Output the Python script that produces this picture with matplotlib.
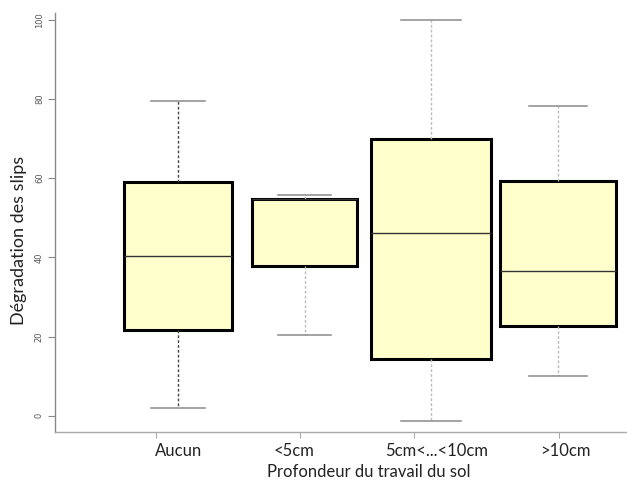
import matplotlib
matplotlib.use('Agg')
import matplotlib.pyplot as plt
from matplotlib.ticker import FixedLocator, NullFormatter

# ---- data ----
categories = ['Aucun', '<5cm', '5cm<...<10cm', '>10cm']
whisker_low = [1.9, 20.3, -1.3, 10.0]
q1 = [21.7, 37.8, 14.3, 22.7]
median = [40.4, 54.8, 46.2, 36.6]
q3 = [59.0, 54.8, 69.9, 59.3]
whisker_high = [79.6, 55.8, 100.0, 78.2]
box_widths = [0.86, 0.83, 0.95, 0.92]
yticks = [0, 20, 40, 60, 80, 100]

# tick marks / label offsets as in the reference axis
label_positions = [1.005, 1.92, 3.04, 4.06]
tickmark_positions = [0.822, 1.963, 2.864, 4.009]

plt.rcParams['font.family'] = ['Lato', 'DejaVu Sans']

fig = plt.figure(figsize=(6.27, 4.82), dpi=100)
ax = fig.add_axes([55 / 627, (482 - 431.7) / 482, (627 - 55) / 627, (431.7 - 13) / 482])

stats = []
for i, name in enumerate(categories):
    stats.append(dict(label=name, whislo=whisker_low[i], q1=q1[i], med=median[i],
                      q3=q3[i], whishi=whisker_high[i], fliers=[]))

positions = list(range(1, len(categories) + 1))
bp = ax.bxp(stats, positions=positions, widths=box_widths, patch_artist=True,
            showfliers=False, manage_ticks=False,
            boxprops=dict(facecolor='#FFFFCC', edgecolor='black', linewidth=2.2),
            medianprops=dict(color='#333333', linewidth=1.0),
            whiskerprops=dict(color='#BBBBBB', linewidth=1.0, linestyle=(0, (2, 1.5))),
            capprops=dict(color='#8A8A8A', linewidth=1.1))

# R-like staples: half the box width
for i, cap in enumerate(bp['caps']):
    k = i // 2
    half = box_widths[k] / 4
    cap.set_xdata([positions[k] - half, positions[k] + half])

# first box has darker whiskers
for w in bp['whiskers'][0:2]:
    w.set_color('#444444')

ax.set_xlim(0.028, 4.546)
ax.set_ylim(-4.04, 101.7)

for s in ['top', 'right']:
    ax.spines[s].set_visible(False)
ax.spines['left'].set_color('#888888')
ax.spines['bottom'].set_color('#AAAAAA')
ax.spines['left'].set_linewidth(1.0)
ax.spines['bottom'].set_linewidth(1.0)

ax.set_yticks(yticks)
ax.set_yticklabels([str(v) for v in yticks], rotation=90, va='center',
                   fontsize=6, color='#555555', family=['DejaVu Sans'])
ax.tick_params(axis='y', length=5, width=0.8, color='#888888', pad=3)

ax.xaxis.set_major_locator(FixedLocator(label_positions))
ax.set_xticklabels(categories, fontsize=12, color='#222222')
ax.tick_params(axis='x', which='major', length=0, pad=8)
ax.xaxis.set_minor_locator(FixedLocator(tickmark_positions))
ax.xaxis.set_minor_formatter(NullFormatter())
ax.tick_params(axis='x', which='minor', length=4, width=0.8, color='#AAAAAA')

fig.text(368.5 / 627, (482 - 472) / 482, 'Profondeur du travail du sol',
         ha='center', va='center', fontsize=12, color='#222222')
fig.text(19 / 627, (482 - 240) / 482, 'Dégradation des slips', rotation=90,
         ha='center', va='center', fontsize=13, color='#222222')

fig.savefig('out.png', dpi=100)
